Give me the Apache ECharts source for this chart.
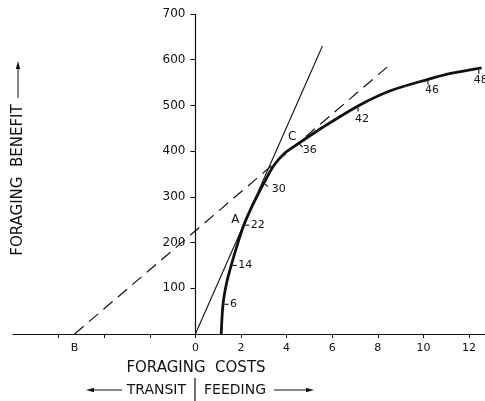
<!DOCTYPE html>
<html>
<head>
<meta charset="utf-8">
<script src="https://cdn.jsdelivr.net/npm/echarts@6/dist/echarts.min.js"></script>
<style>
html,body{margin:0;padding:0;background:#fff;}
#chart{width:485px;height:401px;}
</style>
</head>
<body>
<div id="chart"></div>
<script>
// ---- data ----
const curveX = [1.13, 1.21, 1.36, 1.57, 1.83, 2.12, 2.45, 2.75, 3.0, 3.43, 3.9, 4.53, 5.3, 6.1, 7.13, 8.55, 10.2, 11.2, 12.55];
const curveY = [0, 65, 110, 150, 194, 238, 276, 306, 330, 368, 395, 417, 443, 468, 499, 532, 557, 570, 582];
const markX = [1.21, 1.57, 2.12, 3.0, 4.53, 7.13, 10.2, 12.43];
const markY = [65, 150, 238, 330, 417, 499, 557, 581];
const markLabels = ['6', '14', '22', '30', '36', '42', '46', '48'];
const tangentA = [[0, 0], [5.57, 630]];
const pointB = -5.3;
const tangentC = [[pointB, 0], [8.6, 592]];
const pointLabels = ['A', 'C'];
const pointX = [1.75, 4.24];
const pointY = [249, 432];
const xTickValues = [-6, -4, -2, 0, 2, 4, 6, 8, 10, 12];
const xLabelValues = [0, 2, 4, 6, 8, 10, 12];
const yLabelValues = [100, 200, 300, 400, 500, 600, 700];

// ---- layout / style (not data) ----
const INK = '#111';
const FONT = 'DejaVu Sans';
const GRID_LEFT = 13, GRID_RIGHT = 0;
const X_MIN = -8, X_MAX = 12.7;
// tick direction (deg, screen, y down), label offset and alignment
const markLayout = [
  {a: 0,  tx: 7, ty: 0,  align: 'left'},
  {a: 0,  tx: 7, ty: 0,  align: 'left'},
  {a: 0,  tx: 7, ty: 0,  align: 'left'},
  {a: 40, tx: 8, ty: 6,  align: 'left'},
  {a: 45, tx: 4, ty: 7,  align: 'left'},
  {a: 90, tx: 4, ty: 13, align: 'center'},
  {a: 90, tx: 4, ty: 11, align: 'center'},
  {a: 90, tx: 2, ty: 12, align: 'center'}
];

const el = document.getElementById('chart');
const chart = echarts.init(el, null, {renderer: 'canvas'});
// y axis sits at x = 0: shift it inward from the grid's left edge
const gridW = el.clientWidth - GRID_LEFT - GRID_RIGHT;
const yAxisShift = gridW * (0 - X_MIN) / (X_MAX - X_MIN);

const option = {
  backgroundColor: '#fff',
  animation: false,
  grid: {left: GRID_LEFT, right: GRID_RIGHT, top: 14, bottom: 67, containLabel: false, outerBoundsMode: 'none'},
  xAxis: {
    type: 'value', min: X_MIN, max: X_MAX, interval: 2,
    axisLine: {onZero: false, lineStyle: {color: INK, width: 1.2}},
    axisTick: {length: 4, customValues: xTickValues, lineStyle: {color: INK, width: 1}},
    axisLabel: {
      customValues: [pointB].concat(xLabelValues),
      formatter: v => (Math.abs(v - pointB) < 1e-6 ? 'B' : String(v)),
      color: INK, fontFamily: FONT, fontSize: 11, margin: 9
    },
    splitLine: {show: false}
  },
  yAxis: {
    type: 'value', min: 0, max: 700, interval: 100,
    offset: -yAxisShift,
    axisLine: {onZero: false, lineStyle: {color: INK, width: 1.2}},
    axisTick: {length: 5, customValues: yLabelValues, lineStyle: {color: INK, width: 1}},
    axisLabel: {customValues: yLabelValues, color: INK, fontFamily: FONT, fontSize: 12, margin: 10},
    splitLine: {show: false}
  },
  series: [
    {
      type: 'line', data: tangentC, symbol: 'none', silent: true,
      lineStyle: {color: INK, width: 1.2, type: [12, 7]}
    },
    {
      type: 'line', data: tangentA, symbol: 'none', silent: true,
      lineStyle: {color: INK, width: 1.1}
    },
    {
      type: 'line', data: curveX.map((x, i) => [x, curveY[i]]), symbol: 'none', silent: true,
      smooth: 0.3,
      lineStyle: {color: INK, width: 2.8}
    },
    {
      type: 'custom', silent: true, clip: false,
      data: markX.map((x, i) => [x, markY[i], i]),
      renderItem: function (params, api) {
        const p = api.coord([api.value(0), api.value(1)]);
        const L = markLayout[api.value(2)];
        const r = L.a * Math.PI / 180;
        const dx = Math.cos(r), dy = Math.sin(r);
        return {
          type: 'group',
          children: [
            {type: 'line', shape: {x1: p[0] + dx * 1.5, y1: p[1] + dy * 1.5, x2: p[0] + dx * 5.5, y2: p[1] + dy * 5.5},
             style: {stroke: INK, lineWidth: 1.1}},
            {type: 'text', x: p[0] + L.tx, y: p[1] + L.ty,
             style: {text: markLabels[api.value(2)], fill: INK, fontFamily: FONT, fontSize: 11,
                     align: L.align, verticalAlign: 'middle'}}
          ]
        };
      }
    },
    {
      type: 'custom', silent: true, clip: false,
      data: pointX.map((x, i) => [x, pointY[i], i]),
      renderItem: function (params, api) {
        const p = api.coord([api.value(0), api.value(1)]);
        return {
          type: 'text', x: p[0], y: p[1],
          style: {text: pointLabels[api.value(2)], fill: INK, fontFamily: FONT, fontSize: 12,
                  align: 'center', verticalAlign: 'middle'}
        };
      }
    }
  ],
  graphic: [
    // y-axis title
    {type: 'text', x: 18, y: 180, rotation: Math.PI / 2,
     style: {text: 'FORAGING  BENEFIT', fill: INK, fontFamily: FONT, fontSize: 15, align: 'center', verticalAlign: 'middle'}},
    {type: 'line', shape: {x1: 18, y1: 98, x2: 18, y2: 66}, style: {stroke: INK, lineWidth: 1}},
    {type: 'polygon', shape: {points: [[18, 61], [15.8, 69], [20.2, 69]]}, style: {fill: INK}},
    // x-axis title
    {type: 'text', x: 196, y: 368,
     style: {text: 'FORAGING  COSTS', fill: INK, fontFamily: FONT, fontSize: 15, align: 'center', verticalAlign: 'middle'}},
    // transit | feeding
    {type: 'text', x: 186, y: 390,
     style: {text: 'TRANSIT', fill: INK, fontFamily: FONT, fontSize: 14, align: 'right', verticalAlign: 'middle'}},
    {type: 'text', x: 204, y: 390,
     style: {text: 'FEEDING', fill: INK, fontFamily: FONT, fontSize: 14, align: 'left', verticalAlign: 'middle'}},
    {type: 'line', shape: {x1: 195, y1: 378, x2: 195, y2: 401}, style: {stroke: INK, lineWidth: 1.2}},
    {type: 'line', shape: {x1: 92, y1: 390, x2: 122, y2: 390}, style: {stroke: INK, lineWidth: 1}},
    {type: 'polygon', shape: {points: [[86, 390], [94, 387.8], [94, 392.2]]}, style: {fill: INK}},
    {type: 'line', shape: {x1: 274, y1: 390, x2: 308, y2: 390}, style: {stroke: INK, lineWidth: 1}},
    {type: 'polygon', shape: {points: [[314, 390], [306, 387.8], [306, 392.2]]}, style: {fill: INK}}
  ]
};
chart.setOption(option);
</script>
</body>
</html>
